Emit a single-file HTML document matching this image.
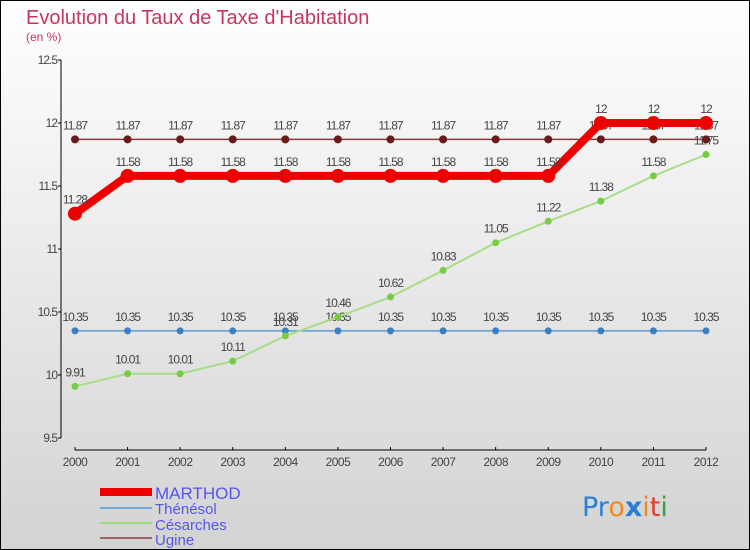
<!DOCTYPE html>
<html><head><meta charset="utf-8"><style>
body{margin:0}
svg{display:block;font-family:"Liberation Sans",sans-serif}
</style></head><body>
<svg id="c" width="750" height="550" viewBox="0 0 750 550">
<defs><linearGradient id="bg" x1="0" y1="0" x2="0" y2="1"><stop offset="0" stop-color="#ffffff"/><stop offset="1" stop-color="#d3d3d3"/></linearGradient></defs>
<rect x="0.5" y="0.5" width="749" height="549" fill="url(#bg)" stroke="#000"/>
<text x="26" y="24" font-size="20" fill="#c8355e">Evolution du Taux de Taxe d'Habitation</text>
<text x="26" y="41" font-size="12" fill="#c8355e">(en %)</text>
<g id="axes"></g><g id="series"></g>
<g>
<rect x="100" y="488" width="52" height="8" fill="#ee0000"/>
<text x="155" y="499" font-size="17" fill="#5555ee">MARTHOD</text>
<rect x="100" y="507" width="52" height="2" fill="#6fa8d6"/>
<text x="155" y="514" font-size="15" fill="#5555ee">Thénésol</text>
<rect x="100" y="522" width="52" height="2" fill="#99dd77"/>
<text x="155" y="530" font-size="15" fill="#5555ee">Césarches</text>
<rect x="100" y="537" width="52" height="2" fill="#996666"/>
<text x="155" y="545" font-size="15" fill="#5555ee">Ugine</text>
</g>
<text x="582" y="516" font-size="27" font-family="DejaVu Sans, sans-serif"><tspan fill="#2a7fd4">Pr</tspan><tspan fill="#f08a1c">o</tspan><tspan fill="#2a7fd4" font-weight="bold">x</tspan><tspan fill="#f08a1c">i</tspan><tspan fill="#e83a2a">t</tspan><tspan fill="#3aa03a">i</tspan></text>
</svg>
<script>
const years=[2000,2001,2002,2003,2004,2005,2006,2007,2008,2009,2010,2011,2012];
const yTicks=[9.5,10,10.5,11,11.5,12,12.5];
const marthod=[11.28,11.58,11.58,11.58,11.58,11.58,11.58,11.58,11.58,11.58,12,12,12];
const thenesol=[10.35,10.35,10.35,10.35,10.35,10.35,10.35,10.35,10.35,10.35,10.35,10.35,10.35];
const cesarches=[9.91,10.01,10.01,10.11,10.31,10.46,10.62,10.83,11.05,11.22,11.38,11.58,11.75];
const ugine=[11.87,11.87,11.87,11.87,11.87,11.87,11.87,11.87,11.87,11.87,11.87,11.87,11.87];
const NS="http://www.w3.org/2000/svg";
const x=i=>75+i*(706-75)/(years.length-1);
const y=v=>438-(v-9.5)*126;
function mk(t,a,p){const e=document.createElementNS(NS,t);for(const k in a)e.setAttribute(k,a[k]);p.appendChild(e);return e;}
const ax=document.getElementById('axes');
let e=mk('line',{x1:61,y1:60,x2:61,y2:438,stroke:'#000'},ax);


e=mk('line',{x1:75,y1:450,x2:706,y2:450,stroke:'#000'},ax);


yTicks.forEach(v=>{
 mk('line',{x1:58,y1:y(v),x2:61,y2:y(v),stroke:'#000'},ax);
 const t=mk('text',{x:57,y:y(v)+4,'text-anchor':'end','font-size':12,fill:'#444','letter-spacing':'-1'},ax);
 t.textContent=v;
 
 
});
years.forEach((yr,i)=>{
 mk('line',{x1:x(i),y1:447,x2:x(i),y2:450,stroke:'#000'},ax);
 const t=mk('text',{x:x(i),y:466,'text-anchor':'middle','font-size':12,fill:'#444','letter-spacing':'-0.5'},ax);
 t.textContent=yr;
 
 
});
const sg=document.getElementById('series');
function series(name,data,color,w,r,fill){
 const g=mk('g',{},sg);
 
 
 const pl=mk('polyline',{points:data.map((v,i)=>x(i)+','+y(v)).join(' '),fill:'none',stroke:color,'stroke-width':w,'stroke-linejoin':'round'},g);
 
 
 data.forEach((v,i)=>{
  const c=mk('circle',{cx:x(i),cy:y(v),r:r,fill:fill},g);
  
  
  const t=mk('text',{x:x(i),y:y(v)-10,'text-anchor':'middle','font-size':12,fill:'#444','letter-spacing':'-1'},g);
  t.textContent=v;
  
  
 });
}
series('ugine',ugine,'#8b3a3a',1.5,4,'#6b1a1a');
series('thenesol',thenesol,'#5b9bd5',1.5,3.5,'#3a80c4');
series('cesarches',cesarches,'#a8dd88',2,3.5,'#77cc44');
series('marthod',marthod,'#ee0000',8,7,'#ee0000');
</script>
</body></html>
